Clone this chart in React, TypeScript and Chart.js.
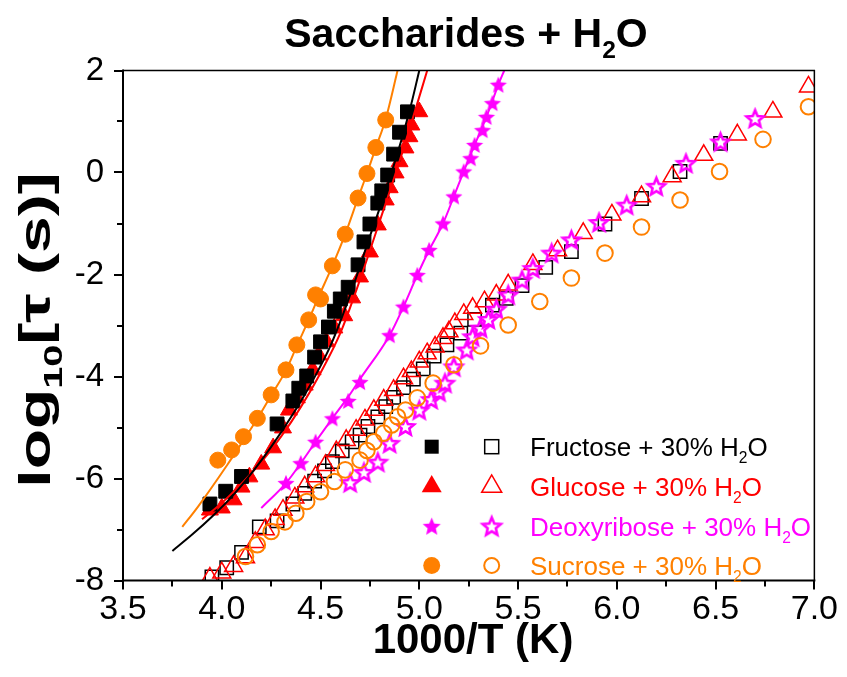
import React, { useEffect, useRef } from 'react';
import { Chart, registerables } from 'chart.js';

Chart.register(...registerables);

const BLACK = '#000000';
const RED = '#FF0000';
const MAGENTA = '#FF00FF';
const ORANGE = '#FF8000';
const FONT = "'Liberation Sans', Arial, sans-serif";

// ---- filled symbols (with fits) ----
const fructoseFilledX = [3.94, 4.02, 4.10, 4.28, 4.36, 4.39, 4.43, 4.47, 4.50, 4.54, 4.57, 4.60, 4.64, 4.69, 4.72, 4.75, 4.79, 4.81, 4.84, 4.87, 4.90, 4.94];
const fructoseFilledY = [-6.50, -6.25, -5.96, -4.93, -4.48, -4.23, -3.99, -3.62, -3.32, -3.03, -2.72, -2.48, -2.25, -1.81, -1.36, -1.01, -0.60, -0.36, -0.05, 0.36, 0.79, 1.19];

const glucoseFilledX = [3.94, 4.00, 4.06, 4.10, 4.14, 4.20, 4.26, 4.31, 4.34, 4.38, 4.42, 4.46, 4.49, 4.53, 4.57, 4.62, 4.66, 4.70, 4.75, 4.79, 4.83, 4.85, 4.88, 4.90, 4.93, 4.95, 4.96, 5.00];
const glucoseFilledY = [-6.62, -6.58, -6.42, -6.17, -5.97, -5.72, -5.40, -5.01, -4.66, -4.42, -4.17, -3.87, -3.58, -3.32, -3.05, -2.81, -2.46, -2.05, -1.56, -1.03, -0.54, -0.30, -0.01, 0.21, 0.48, 0.70, 0.93, 1.19];

const deoxyFilledX = [4.325, 4.40, 4.475, 4.56, 4.64, 4.70, 4.85, 4.92, 4.99, 5.05, 5.12, 5.175, 5.225, 5.26, 5.28, 5.32, 5.34, 5.37, 5.40];
const deoxyFilledY = [-6.09, -5.70, -5.28, -4.82, -4.48, -4.11, -3.19, -2.63, -2.01, -1.52, -1.00, -0.47, 0.02, 0.28, 0.54, 0.83, 1.09, 1.36, 1.72];

const sucroseFilledX = [3.98, 4.05, 4.11, 4.18, 4.25, 4.325, 4.38, 4.44, 4.475, 4.50, 4.56, 4.625, 4.69, 4.735, 4.78, 4.83];
const sucroseFilledY = [-5.64, -5.44, -5.18, -4.82, -4.36, -3.87, -3.38, -2.89, -2.40, -2.48, -1.83, -1.21, -0.50, -0.02, 0.49, 1.03];

// ---- fit curves ----
const fructoseFitX = [3.75, 3.85, 3.95, 4.05, 4.15, 4.25, 4.35, 4.45, 4.55, 4.65, 4.75, 4.85, 4.95, 5.00];
const fructoseFitY = [-7.42, -7.10, -6.75, -6.36, -5.90, -5.38, -4.80, -4.15, -3.40, -2.40, -1.25, -0.12, 1.20, 2.00];

const glucoseFitX = [3.90, 4.00, 4.10, 4.20, 4.30, 4.40, 4.50, 4.60, 4.70, 4.80, 4.90, 4.97, 5.04];
const glucoseFitY = [-6.80, -6.48, -6.10, -5.68, -5.18, -4.60, -3.93, -3.15, -2.10, -0.95, 0.22, 1.10, 2.00];

const deoxyFitX = [4.20, 4.325, 4.40, 4.475, 4.56, 4.64, 4.70, 4.85, 4.92, 4.99, 5.05, 5.12, 5.175, 5.225, 5.28, 5.34, 5.40, 5.43];
const deoxyFitY = [-6.58, -6.09, -5.70, -5.28, -4.82, -4.40, -4.05, -3.19, -2.63, -2.01, -1.52, -1.00, -0.47, 0.02, 0.54, 1.09, 1.72, 2.00];

const sucroseFitX = [3.80, 3.88, 4.03, 4.11, 4.18, 4.25, 4.325, 4.38, 4.44, 4.49, 4.56, 4.625, 4.69, 4.735, 4.78, 4.83, 4.89];
const sucroseFitY = [-6.95, -6.55, -5.72, -5.25, -4.83, -4.37, -3.88, -3.40, -2.89, -2.44, -1.83, -1.21, -0.50, -0.02, 0.49, 1.05, 2.00];

// ---- open symbols ----
const fructoseOpenX = [3.95, 4.025, 4.10, 4.19, 4.28, 4.36, 4.42, 4.47, 4.52, 4.56, 4.61, 4.66, 4.70, 4.74, 4.79, 4.83, 4.87, 4.92, 4.97, 5.02, 5.075, 5.14, 5.21, 5.28, 5.37, 5.44, 5.52, 5.64, 5.77, 5.94, 6.125, 6.32, 6.525];
const fructoseOpenY = [-7.93, -7.75, -7.45, -6.95, -6.83, -6.50, -6.29, -6.05, -5.85, -5.67, -5.46, -5.28, -5.15, -4.98, -4.79, -4.59, -4.41, -4.22, -4.05, -3.85, -3.60, -3.38, -3.15, -2.88, -2.60, -2.47, -2.22, -1.86, -1.55, -1.01, -0.51, 0.02, 0.57];

const glucoseOpenX = [3.94, 4.00, 4.06, 4.12, 4.17, 4.22, 4.27, 4.31, 4.37, 4.42, 4.475, 4.525, 4.58, 4.63, 4.68, 4.725, 4.77, 4.82, 4.87, 4.92, 4.96, 5.00, 5.04, 5.08, 5.12, 5.15, 5.18, 5.225, 5.27, 5.33, 5.39, 5.45, 5.575, 5.70, 5.83, 5.975, 6.125, 6.28, 6.44, 6.61, 6.79, 6.97];
const glucoseOpenY = [-7.95, -7.85, -7.72, -7.55, -7.25, -7.00, -6.80, -6.62, -6.38, -6.16, -5.96, -5.74, -5.47, -5.25, -5.05, -4.85, -4.66, -4.46, -4.27, -4.04, -3.90, -3.71, -3.55, -3.42, -3.25, -3.12, -2.96, -2.78, -2.66, -2.53, -2.40, -2.20, -1.80, -1.53, -1.19, -0.83, -0.47, -0.08, 0.34, 0.74, 1.19, 1.68];

const deoxyOpenX = [4.65, 4.72, 4.79, 4.85, 4.93, 5.00, 5.06, 5.10, 5.13, 5.175, 5.24, 5.27, 5.31, 5.35, 5.39, 5.45, 5.52, 5.575, 5.67, 5.77, 5.91, 6.05, 6.20, 6.35, 6.525, 6.70];
const deoxyOpenY = [-6.08, -5.88, -5.68, -5.31, -4.98, -4.66, -4.45, -4.30, -4.13, -3.81, -3.48, -3.22, -3.05, -2.88, -2.68, -2.40, -2.11, -1.88, -1.58, -1.32, -0.98, -0.64, -0.27, 0.18, 0.60, 1.06];

const sucroseOpenX = [4.12, 4.18, 4.25, 4.32, 4.375, 4.43, 4.50, 4.57, 4.625, 4.70, 4.735, 4.77, 4.82, 4.86, 4.89, 4.93, 4.99, 5.07, 5.175, 5.31, 5.45, 5.61, 5.77, 5.94, 6.125, 6.32, 6.52, 6.74, 6.97];
const sucroseOpenY = [-7.53, -7.30, -7.04, -6.85, -6.68, -6.45, -6.26, -6.06, -5.83, -5.64, -5.45, -5.28, -5.11, -4.95, -4.79, -4.66, -4.42, -4.13, -3.77, -3.40, -2.99, -2.53, -2.07, -1.58, -1.07, -0.54, 0.02, 0.65, 1.29];

const legendNames = ['Fructose', 'Glucose', 'Deoxyribose', 'Sucrose'];
const legendColors = [BLACK, RED, MAGENTA, ORANGE];
const xMajorTicks = [3.5, 4.0, 4.5, 5.0, 5.5, 6.0, 6.5, 7.0];
const yMajorTicks = [-8, -6, -4, -2, 0, 2];

function pts(xs: number[], ys: number[]) {
  return xs.map((x, i) => ({ x, y: ys[i] }));
}

function makeStar(outer: number, fill: boolean, color: string, lw: number) {
  const size = Math.ceil(outer * 2 + lw + 4);
  const c = document.createElement('canvas');
  c.width = size;
  c.height = size;
  const ctx = c.getContext('2d')!;
  const cx = size / 2;
  const cy = size / 2 + outer * 0.08;
  const inner = outer * 0.45;
  ctx.beginPath();
  for (let i = 0; i < 10; i++) {
    const r = i % 2 === 0 ? outer : inner;
    const a = -Math.PI / 2 + (i * Math.PI) / 5;
    const px = cx + r * Math.cos(a);
    const py = cy + r * Math.sin(a);
    if (i === 0) ctx.moveTo(px, py);
    else ctx.lineTo(px, py);
  }
  ctx.closePath();
  if (fill) {
    ctx.fillStyle = color;
    ctx.fill();
  } else {
    ctx.strokeStyle = color;
    ctx.lineWidth = lw;
    ctx.lineJoin = 'miter';
    ctx.stroke();
  }
  return c;
}

function drawSubText(
  ctx: CanvasRenderingContext2D,
  parts: { t: string; sub?: boolean }[],
  x: number,
  y: number,
  size: number,
  weight: string,
  align: 'left' | 'center',
  stretch = 1
) {
  const subSize = size * 0.6;
  const widths = parts.map((p) => {
    ctx.font = `${weight} ${p.sub ? subSize : size}px ${FONT}`;
    return ctx.measureText(p.t).width * stretch;
  });
  const total = widths.reduce((a, b) => a + b, 0);
  let cx = align === 'center' ? x - total / 2 : x;
  ctx.textAlign = 'left';
  ctx.textBaseline = 'alphabetic';
  parts.forEach((p, i) => {
    ctx.font = `${weight} ${p.sub ? subSize : size}px ${FONT}`;
    const yy = p.sub ? y + size * 0.27 : y;
    ctx.save();
    ctx.translate(cx, yy);
    ctx.scale(stretch, 1);
    ctx.fillText(p.t, 0, 0);
    ctx.restore();
    cx += widths[i];
  });
}

export default function App() {
  const ref = useRef<HTMLCanvasElement | null>(null);

  useEffect(() => {
    if (!ref.current) return;
    const starFilled = makeStar(9, true, MAGENTA, 0);
    const starOpen = makeStar(9, false, MAGENTA, 2.6);
    const starFilledLeg = makeStar(9.5, true, MAGENTA, 0);
    const starOpenLeg = makeStar(9.5, false, MAGENTA, 2.6);

    const framePlugin = {
      id: 'frame',
      afterDraw(chart: any) {
        const { ctx, chartArea: a, scales } = chart;
        const xs = scales.x;
        const ys = scales.y;
        ctx.save();
        ctx.strokeStyle = '#000';
        ctx.lineWidth = 1.5;
        ctx.beginPath();
        ctx.moveTo(a.left, a.top);
        ctx.lineTo(a.right, a.top);
        ctx.lineTo(a.right, a.bottom);
        ctx.stroke();
        ctx.lineWidth = 2;
        ctx.beginPath();
        ctx.moveTo(a.left, a.top - 1);
        ctx.lineTo(a.left, a.bottom);
        ctx.lineTo(a.right + 1, a.bottom);
        ctx.stroke();
        xMajorTicks.forEach((v, i) => {
          const px = Math.round(xs.getPixelForValue(v));
          ctx.beginPath();
          ctx.moveTo(px, a.bottom);
          ctx.lineTo(px, a.bottom + 9);
          ctx.stroke();
          if (i < xMajorTicks.length - 1) {
            const mx = Math.round(xs.getPixelForValue((v + xMajorTicks[i + 1]) / 2));
            ctx.beginPath();
            ctx.moveTo(mx, a.bottom);
            ctx.lineTo(mx, a.bottom + 6);
            ctx.stroke();
          }
        });
        yMajorTicks.forEach((v, i) => {
          const py = Math.round(ys.getPixelForValue(v));
          ctx.beginPath();
          ctx.moveTo(a.left, py);
          ctx.lineTo(a.left - 9, py);
          ctx.stroke();
          if (i < yMajorTicks.length - 1) {
            const my = Math.round(ys.getPixelForValue((v + yMajorTicks[i + 1]) / 2));
            ctx.beginPath();
            ctx.moveTo(a.left, my);
            ctx.lineTo(a.left - 6, my);
            ctx.stroke();
          }
        });

        ctx.fillStyle = '#000';
        drawSubText(ctx, [{ t: 'Saccharides + H' }, { t: '2', sub: true }, { t: 'O' }], 466, 47, 41, 'bold', 'center');
        drawSubText(ctx, [{ t: '1000/T (K)' }], 473, 653, 42, 'bold', 'center');
        ctx.save();
        ctx.translate(50, 330);
        ctx.rotate(-Math.PI / 2);
        drawSubText(ctx, [{ t: 'log' }, { t: '10', sub: true }, { t: '[\u03C4 (s)]' }], 0, 0, 44, 'bold', 'center', 1.5);
        ctx.restore();

        const rowY = [446.7, 486.5, 526.3, 565.5];
        legendNames.forEach((name, i) => {
          const cy = rowY[i];
          const col = legendColors[i];
          const fx = 431.7;
          const ox = 491.7;
          ctx.fillStyle = col;
          ctx.strokeStyle = col;
          if (i === 0) {
            ctx.fillRect(fx - 7, cy - 7, 14, 14);
            ctx.lineWidth = 1.5;
            ctx.strokeRect(ox - 7, cy - 7, 14, 14);
          } else if (i === 1) {
            const w = 20;
            const r = w / Math.sqrt(3);
            const tri = (x: number) => {
              ctx.beginPath();
              ctx.moveTo(x, cy - r);
              ctx.lineTo(x - w / 2, cy + r / 2);
              ctx.lineTo(x + w / 2, cy + r / 2);
              ctx.closePath();
            };
            tri(fx);
            ctx.fill();
            ctx.lineWidth = 1.5;
            tri(ox);
            ctx.stroke();
          } else if (i === 2) {
            ctx.drawImage(starFilledLeg, fx - starFilledLeg.width / 2, cy - starFilledLeg.height / 2);
            ctx.drawImage(starOpenLeg, ox - starOpenLeg.width / 2, cy - starOpenLeg.height / 2);
          } else {
            ctx.beginPath();
            ctx.arc(fx, cy, 8.5, 0, Math.PI * 2);
            ctx.fill();
            ctx.lineWidth = 2;
            ctx.beginPath();
            ctx.arc(ox, cy, 7.5, 0, Math.PI * 2);
            ctx.stroke();
          }
          ctx.fillStyle = col;
          drawSubText(ctx, [{ t: `${name} + 30% H` }, { t: '2', sub: true }, { t: 'O' }], 530, cy + 9.3, 26, 'normal', 'left');
        });
        ctx.restore();
      },
    };

    const lineDs = (xs: number[], ys: number[], color: string) => ({
      type: 'line' as const,
      data: pts(xs, ys),
      borderColor: color,
      borderWidth: 2,
      pointRadius: 0,
      showLine: true,
      fill: false,
      cubicInterpolationMode: 'monotone' as const,
      order: 0,
    });
    const filledDs = (xs: number[], ys: number[], color: string, style: any, radius: number) => ({
      type: 'scatter' as const,
      data: pts(xs, ys),
      pointStyle: style,
      pointRadius: radius,
      backgroundColor: color,
      borderColor: color,
      borderWidth: 1,
      showLine: false,
      order: 1,
    });
    const openDs = (xs: number[], ys: number[], color: string, style: any, radius: number, bw: number) => ({
      type: 'scatter' as const,
      data: pts(xs, ys),
      pointStyle: style,
      pointRadius: radius,
      backgroundColor: 'rgba(0,0,0,0)',
      borderColor: color,
      borderWidth: bw,
      showLine: false,
      order: 2,
    });

    const chart = new Chart(ref.current, {
      type: 'scatter',
      data: {
        datasets: [
          lineDs(fructoseFitX, fructoseFitY, BLACK),
          lineDs(glucoseFitX, glucoseFitY, RED),
          lineDs(deoxyFitX, deoxyFitY, MAGENTA),
          lineDs(sucroseFitX, sucroseFitY, ORANGE),
          filledDs(fructoseFilledX, fructoseFilledY, BLACK, 'rect', 9.8),
          filledDs(glucoseFilledX, glucoseFilledY, RED, 'triangle', 9.8),
          filledDs(deoxyFilledX, deoxyFilledY, MAGENTA, starFilled, 9),
          filledDs(sucroseFilledX, sucroseFilledY, ORANGE, 'circle', 8),
          openDs(sucroseOpenX, sucroseOpenY, ORANGE, 'circle', 7.8, 2),
          openDs(deoxyOpenX, deoxyOpenY, MAGENTA, starOpen, 9, 2.5),
          openDs(glucoseOpenX, glucoseOpenY, RED, 'triangle', 10.4, 1.5),
          openDs(fructoseOpenX, fructoseOpenY, BLACK, 'rect', 9.4, 1.5),
        ] as any,
      },
      options: {
        responsive: false,
        animation: false,
        events: [],
        layout: { padding: { left: 0, right: 24, top: 70.5, bottom: 0 } },
        plugins: {
          legend: { display: false },
          tooltip: { enabled: false },
          title: { display: false },
        },
        scales: {
          x: {
            type: 'linear',
            min: 3.5,
            max: 7.0,
            afterFit: (s: any) => {
              s.height = 96.5;
            },
            grid: { display: false, drawTicks: false },
            border: { display: false },
            ticks: {
              stepSize: 0.5,
              padding: 9,
              color: '#000',
              font: { family: FONT, size: 34 },
              maxRotation: 0,
              autoSkip: false,
              callback: (v: any) => Number(v).toFixed(1),
            },
          },
          y: {
            type: 'linear',
            min: -8,
            max: 2,
            afterFit: (s: any) => {
              s.width = 123;
            },
            grid: { display: false, drawTicks: false },
            border: { display: false },
            ticks: {
              stepSize: 2,
              padding: 19,
              color: '#000',
              font: { family: FONT, size: 33 },
              autoSkip: false,
              callback: (v: any) => String(v),
            },
          },
        },
      },
      plugins: [framePlugin],
    });
    return () => chart.destroy();
  }, []);

  return (
    <div style={{ position: 'absolute', left: 0, top: 0, width: 847, height: 677, background: '#fff' }}>
      <canvas ref={ref} width={847} height={677} style={{ display: 'block', width: 847, height: 677 }} />
    </div>
  );
}
